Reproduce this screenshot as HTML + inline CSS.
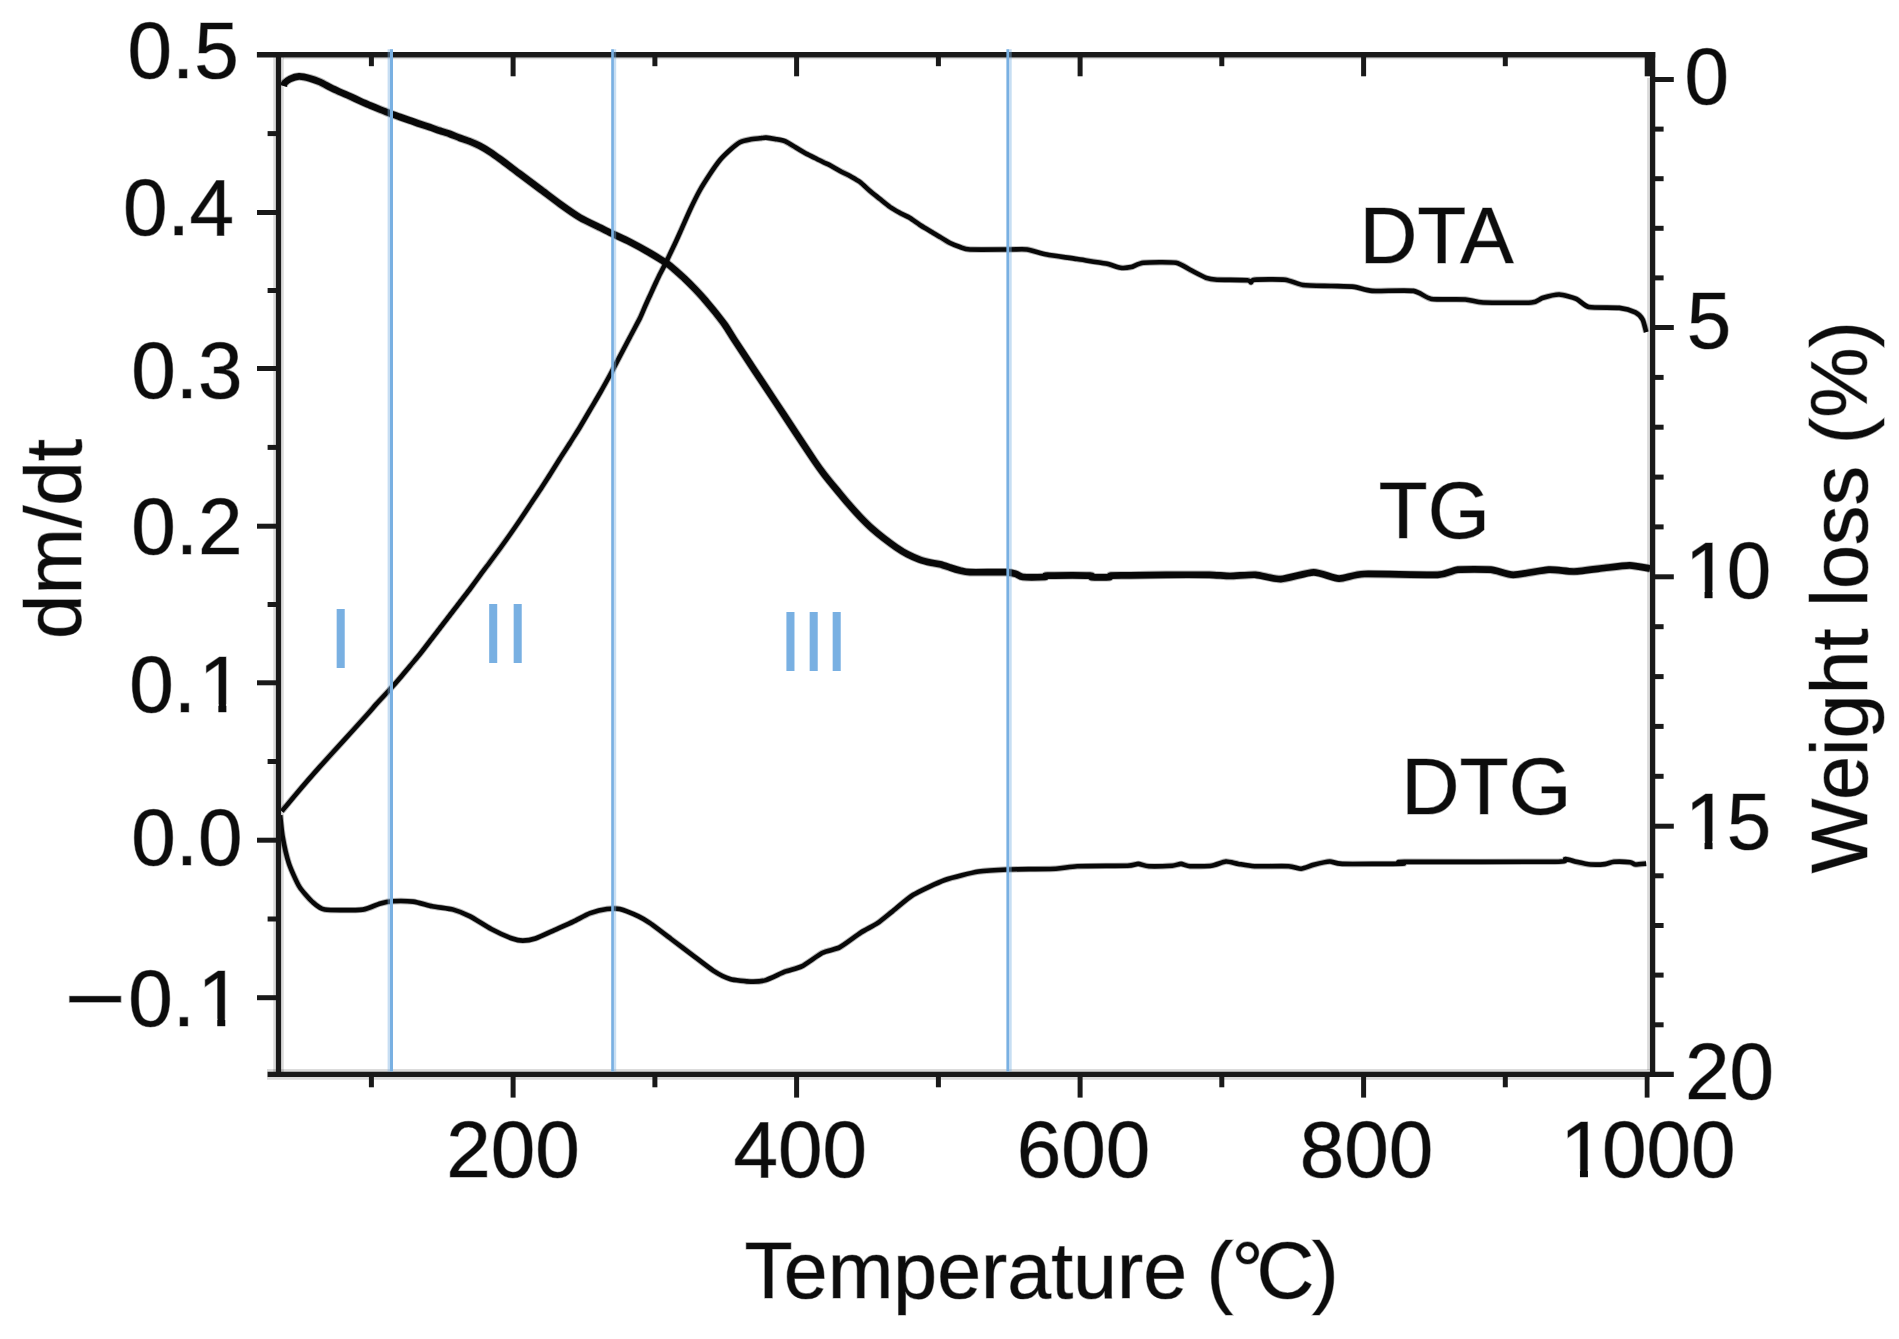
<!DOCTYPE html>
<html lang="en"><head><meta charset="utf-8"><title>TG / DTA / DTG curves</title>
<style>html,body{margin:0;padding:0;background:#fff}body{width:1899px;height:1339px;overflow:hidden}svg{display:block}text{font-family:"Liberation Sans",Arial,Helvetica,sans-serif;fill:#0c0c0c;stroke:#0c0c0c;stroke-opacity:.42;stroke-width:1.2px;paint-order:stroke fill}.bl text{fill:#79b0e2;stroke:none}</style></head><body>
<svg width="1899" height="1339" viewBox="0 0 1899 1339">
<rect width="1899" height="1339" fill="#fff"/>
<g stroke="#000" stroke-opacity="0.14" fill="none">
<line x1="278.5" y1="57" x2="278.5" y2="1072" stroke-width="10.5"/>
<line x1="267" y1="1074.4" x2="1650" y2="1074.4" stroke-width="10.6"/>
<line x1="1648.6" y1="78" x2="1648.6" y2="1070" stroke-width="3"/>
<line x1="283" y1="58.3" x2="1645" y2="58.3" stroke-width="1.8"/>
</g>
<g fill="none" stroke="#080808" stroke-opacity="0.3" stroke-linejoin="round" stroke-linecap="butt">
<path d="M281.8,811.3C283.3,809.5 291.8,799.1 295.8,794.4C299.8,789.7 314.6,772.6 319.7,766.9C324.8,761.2 338.5,746.2 343.6,740.6C348.7,735.0 364.0,718.1 367.5,714.2C371.0,710.3 373.6,707.1 376.0,704.4C378.4,701.7 387.4,692.1 390.0,689.3C392.6,686.5 397.9,680.5 400.0,678.0C402.1,675.5 407.9,668.6 410.0,666.0C412.1,663.4 417.9,656.7 420.0,654.0C422.1,651.3 427.9,643.8 430.0,641.0C432.1,638.2 437.9,630.8 440.0,628.0C442.1,625.2 447.9,617.8 450.0,615.0C452.1,612.2 457.9,604.8 460.0,602.0C462.1,599.2 467.9,591.8 470.0,589.0C472.1,586.2 477.9,578.3 480.0,575.4C482.1,572.5 487.9,564.9 490.0,562.0C492.1,559.1 497.9,551.4 500.0,548.5C502.1,545.6 507.9,537.5 510.0,534.5C512.1,531.5 517.9,523.1 520.0,520.0C522.1,516.9 527.9,508.2 530.0,505.0C532.1,501.8 537.9,493.3 540.0,490.0C542.1,486.7 547.9,477.9 550.0,474.5C552.1,471.1 557.9,461.9 560.0,458.5C562.1,455.1 567.9,446.4 570.0,443.0C572.1,439.6 577.9,430.5 580.0,427.0C582.1,423.5 587.9,413.6 590.0,410.0C592.1,406.4 597.9,396.7 600.0,393.0C602.1,389.3 607.9,378.9 610.0,375.0C612.1,371.1 617.9,360.1 620.0,356.0C622.1,351.9 627.9,341.1 630.0,337.0C632.1,332.9 638.4,321.3 640.0,318.0C641.6,314.7 643.9,308.9 645.0,306.5C646.1,304.1 648.9,297.8 650.0,295.5C651.1,293.2 653.9,286.8 655.0,284.5C656.1,282.2 658.8,276.3 660.0,274.0C661.2,271.7 664.9,264.6 666.0,262.5C667.1,260.4 669.0,256.0 670.0,254.0C671.0,252.0 673.9,245.8 675.0,243.5C676.1,241.2 678.4,236.1 680.0,232.5C681.6,228.9 687.9,214.5 690.0,210.0C692.1,205.5 697.9,193.8 700.0,190.0C702.1,186.2 707.9,177.2 710.0,174.0C712.1,170.8 717.9,162.6 720.0,160.0C722.1,157.4 727.9,151.9 730.0,150.0C732.1,148.1 737.9,143.3 740.0,142.2C742.1,141.1 747.9,139.9 750.0,139.5C752.1,139.1 758.3,138.5 760.0,138.3C761.7,138.1 764.4,137.5 766.0,137.6C767.6,137.7 773.0,138.6 775.0,139.0C777.0,139.4 782.9,140.3 785.0,141.2C787.1,142.1 792.9,145.7 795.0,147.0C797.1,148.3 802.9,151.8 805.0,153.0C807.1,154.2 812.9,156.9 815.0,158.0C817.1,159.1 823.4,162.2 825.0,163.0C826.6,163.8 828.4,164.3 830.0,165.2C831.6,166.1 837.9,169.8 840.0,171.0C842.1,172.2 847.9,174.8 850.0,176.0C852.1,177.2 857.9,180.4 860.0,182.0C862.1,183.6 867.9,189.2 870.0,191.0C872.1,192.8 877.9,197.3 880.0,199.0C882.1,200.7 887.9,205.5 890.0,207.0C892.1,208.5 897.9,211.8 900.0,213.0C902.1,214.2 907.9,216.7 910.0,218.0C912.1,219.3 917.9,223.6 920.0,225.0C922.1,226.4 927.9,229.7 930.0,231.0C932.1,232.3 937.9,235.7 940.0,237.0C942.1,238.3 947.9,241.9 950.0,243.0C952.1,244.1 957.9,246.3 960.0,247.0C962.1,247.7 964.7,249.2 970.0,249.5C975.3,249.8 1003.9,249.5 1010.0,249.5C1016.1,249.5 1023.1,249.0 1027.0,249.5C1030.9,250.0 1041.5,253.6 1046.9,254.6C1052.3,255.6 1071.0,258.1 1077.3,259.1C1083.6,260.1 1101.3,262.7 1105.9,263.6C1110.5,264.5 1117.6,267.3 1120.3,267.7C1123.0,268.1 1128.5,267.6 1131.0,267.1C1133.5,266.6 1138.7,263.2 1143.5,262.7C1148.3,262.2 1170.8,261.9 1175.8,262.7C1180.8,263.5 1186.9,268.2 1190.1,269.8C1193.3,271.4 1203.3,276.8 1206.2,277.9C1209.1,279.0 1212.6,279.5 1217.0,279.7C1221.4,279.9 1243.8,279.9 1247.4,280.2C1251.0,280.5 1250.2,282.5 1251.0,282.4C1251.8,282.3 1251.0,280.0 1254.6,279.7C1258.2,279.4 1279.8,279.1 1285.0,279.7C1290.2,280.3 1297.9,284.3 1302.9,285.0C1307.9,285.7 1326.0,285.8 1331.5,286.0C1337.0,286.2 1350.0,286.4 1354.3,286.9C1358.6,287.4 1365.9,290.5 1372.2,290.9C1378.5,291.3 1407.1,290.0 1413.4,290.9C1419.7,291.8 1425.8,298.0 1431.3,298.9C1436.8,299.8 1459.8,299.1 1465.3,299.5C1470.8,299.9 1476.1,302.2 1483.2,302.5C1490.3,302.8 1525.3,303.0 1531.6,302.5C1537.9,302.0 1539.3,298.9 1542.3,298.0C1545.3,297.1 1555.7,294.4 1559.3,294.5C1562.9,294.6 1573.1,297.6 1576.3,298.9C1579.5,300.2 1584.3,306.0 1588.9,307.0C1593.5,308.0 1614.3,307.3 1619.3,307.9C1624.3,308.5 1632.9,311.2 1635.4,312.4C1637.9,313.6 1641.4,317.4 1642.6,319.5C1643.8,321.6 1645.8,330.8 1646.2,332.1" stroke-width="6.4"/>
<path d="M280.1,815.3C280.4,817.5 281.7,831.1 282.6,836.3C283.5,841.5 287.2,858.3 289.0,863.7C290.8,869.1 297.0,882.9 299.5,886.9C302.0,890.9 309.4,899.2 312.1,901.6C314.8,904.0 319.4,908.7 324.8,909.6C330.2,910.5 356.9,910.2 362.7,909.6C368.5,909.0 376.4,904.6 379.5,903.7C382.6,902.8 388.6,901.4 392.2,901.2C395.8,901.0 408.9,901.1 413.2,901.6C417.5,902.1 427.9,905.4 432.2,906.3C436.5,907.2 449.3,908.5 453.3,909.6C457.3,910.7 466.1,914.3 470.1,916.4C474.1,918.5 486.7,926.6 491.2,929.0C495.7,931.4 508.8,937.3 512.2,938.5C515.6,939.7 520.3,940.6 522.8,940.6C525.3,940.6 532.0,939.6 535.4,938.5C538.8,937.4 550.4,931.9 554.4,930.1C558.4,928.3 569.5,923.4 573.3,921.6C577.1,919.8 586.6,914.5 590.2,913.2C593.8,911.9 603.9,909.4 607.0,909.0C610.1,908.6 616.3,908.2 619.7,909.0C623.1,909.8 635.4,914.9 638.6,916.4C641.8,917.9 646.5,920.8 650.0,923.2C653.5,925.6 666.6,935.6 671.1,939.0C675.6,942.4 687.6,951.4 692.1,954.8C696.6,958.2 709.2,968.0 713.2,970.6C717.2,973.2 726.0,977.8 730.0,979.0C734.0,980.2 747.3,981.5 751.1,981.6C754.9,981.7 762.3,981.2 765.9,980.1C769.5,979.0 781.0,973.2 784.8,971.7C788.6,970.2 797.7,968.4 801.7,966.4C805.7,964.4 818.7,954.7 822.7,952.7C826.7,950.7 835.6,949.5 839.6,947.4C843.6,945.3 856.6,935.3 860.6,932.7C864.6,930.1 874.1,925.5 877.5,923.2C880.9,920.9 888.4,914.6 892.2,911.6C896.0,908.6 907.7,898.2 913.3,894.8C918.9,891.4 937.9,882.5 944.9,880.0C951.9,877.5 971.9,872.7 978.6,871.6C985.3,870.5 999.9,869.8 1008.1,869.5C1016.3,869.2 1048.4,869.1 1055.8,868.7C1063.2,868.3 1069.7,866.5 1077.3,866.2C1084.9,865.9 1120.9,865.9 1127.4,865.7C1133.9,865.5 1135.9,863.8 1138.2,863.9C1140.5,864.0 1145.3,866.0 1148.9,866.2C1152.5,866.4 1168.8,865.9 1172.2,865.7C1175.6,865.5 1179.2,863.8 1181.1,863.9C1183.0,864.0 1186.8,866.0 1190.1,866.2C1193.4,866.4 1207.8,866.2 1211.6,865.7C1215.4,865.2 1223.0,861.7 1225.9,861.5C1228.8,861.3 1235.3,863.4 1238.4,863.9C1241.5,864.4 1249.2,866.0 1254.6,866.2C1260.0,866.4 1283.6,865.9 1288.6,866.2C1293.6,866.5 1298.4,868.8 1301.1,868.7C1303.8,868.6 1310.5,865.6 1313.6,864.8C1316.7,864.0 1326.7,861.6 1329.8,861.5C1332.9,861.4 1334.5,863.7 1342.3,863.9C1350.1,864.1 1396.1,863.8 1402.7,863.6C1409.3,863.4 1388.3,862.0 1404.5,861.8C1420.7,861.6 1537.7,862.1 1554.9,861.8C1572.1,861.5 1563.3,859.1 1565.6,859.1C1567.9,859.1 1573.6,861.2 1576.3,861.8C1579.0,862.4 1587.6,864.3 1590.7,864.5C1593.8,864.7 1602.5,864.4 1605.0,864.1C1607.5,863.8 1611.3,862.0 1614.0,861.8C1616.7,861.6 1627.8,862.0 1630.1,862.3C1632.4,862.6 1633.7,864.4 1635.4,864.5C1637.1,864.6 1645.0,863.7 1646.2,863.6" stroke-width="6.4"/>
<path d="M283.6,86.0C283.7,85.7 283.9,83.7 284.6,83.0C285.3,82.3 288.5,79.7 290.0,79.0C291.5,78.3 296.9,76.5 299.0,76.4C301.1,76.3 307.8,77.8 310.0,78.4C312.2,79.0 317.9,81.1 320.0,82.0C322.1,82.9 327.9,86.2 330.0,87.3C332.1,88.4 337.9,91.0 340.0,92.0C342.1,93.0 347.9,95.3 350.0,96.3C352.1,97.3 357.9,100.0 360.0,101.0C362.1,102.0 367.9,104.4 370.0,105.3C372.1,106.2 377.9,108.6 380.0,109.5C382.1,110.4 387.9,112.6 390.0,113.4C392.1,114.2 397.9,116.2 400.0,117.0C402.1,117.8 407.9,119.8 410.0,120.5C412.1,121.2 417.9,123.3 420.0,124.0C422.1,124.7 427.9,126.6 430.0,127.3C432.1,128.0 437.9,130.1 440.0,130.8C442.1,131.5 447.9,133.2 450.0,134.0C452.1,134.8 457.9,137.2 460.0,138.0C462.1,138.8 467.9,140.6 470.0,141.5C472.1,142.4 477.9,144.9 480.0,146.0C482.1,147.1 487.9,150.6 490.0,152.0C492.1,153.4 496.8,156.7 500.0,159.0C503.2,161.3 515.7,170.8 520.0,174.0C524.3,177.2 535.7,185.8 540.0,189.0C544.3,192.2 555.7,200.9 560.0,204.0C564.3,207.1 575.7,215.1 580.0,217.6C584.3,220.1 596.5,225.9 600.0,227.6C603.5,229.3 609.8,232.5 613.0,234.0C616.2,235.5 626.1,240.0 630.0,242.0C633.9,244.0 646.1,250.7 650.0,253.0C653.9,255.3 664.1,261.5 666.8,263.3C669.5,265.1 673.1,268.3 675.0,270.0C676.9,271.7 682.9,277.0 685.0,279.0C687.1,281.0 692.9,286.8 695.0,289.0C697.1,291.2 702.9,297.5 705.0,300.0C707.1,302.5 712.9,309.3 715.0,312.0C717.1,314.7 722.9,322.0 725.0,325.0C727.1,328.0 731.4,335.2 734.5,340.0C737.6,344.8 750.2,363.8 754.5,370.3C758.8,376.8 770.2,394.0 774.5,400.5C778.8,407.0 790.2,424.3 794.5,430.8C798.8,437.3 811.4,456.4 814.5,461.0C817.6,465.6 821.7,471.2 824.0,474.2C826.3,477.2 833.4,485.9 836.0,489.0C838.6,492.1 845.4,500.4 848.0,503.4C850.6,506.4 857.4,514.0 860.0,516.7C862.6,519.4 869.4,526.2 872.0,528.5C874.6,530.8 881.4,536.4 884.0,538.4C886.6,540.4 893.5,545.5 896.0,547.2C898.5,548.9 905.0,553.0 907.5,554.3C910.0,555.6 917.0,558.7 919.5,559.6C922.0,560.5 929.2,562.3 931.4,562.8C933.6,563.3 938.0,563.8 940.0,564.3C942.0,564.8 947.9,566.8 950.0,567.5C952.1,568.2 957.9,570.0 960.0,570.5C962.1,571.0 965.1,572.0 970.0,572.2C974.9,572.4 1001.1,572.0 1006.0,572.2C1010.9,572.4 1014.2,573.5 1016.0,574.0C1017.8,574.5 1019.9,576.7 1023.0,577.0C1026.1,577.3 1042.4,577.1 1045.0,577.0C1047.6,576.9 1042.7,575.7 1047.5,575.6C1052.3,575.5 1085.3,575.4 1090.0,575.6C1094.7,575.8 1090.0,577.0 1092.0,577.2C1094.0,577.4 1107.0,577.4 1109.0,577.2C1111.0,577.0 1108.8,575.8 1111.0,575.6C1113.2,575.4 1124.0,575.5 1130.0,575.4C1136.0,575.3 1158.6,574.9 1167.0,574.8C1175.4,574.7 1202.4,574.7 1209.1,574.8C1215.8,574.9 1225.0,576.0 1230.0,576.0C1235.0,576.0 1250.2,574.5 1255.6,574.8C1261.0,575.1 1274.7,579.4 1280.9,579.1C1287.1,578.8 1307.5,572.4 1313.7,572.3C1319.9,572.2 1333.6,578.4 1339.0,578.6C1344.4,578.8 1353.8,574.4 1364.3,574.0C1374.8,573.6 1427.6,575.3 1437.6,574.8C1447.6,574.3 1452.1,570.2 1457.8,569.7C1463.5,569.2 1484.8,569.2 1490.7,569.7C1496.6,570.2 1507.2,574.8 1513.4,574.8C1519.6,574.8 1542.3,570.1 1548.8,569.7C1555.3,569.3 1568.2,571.7 1574.1,571.5C1580.0,571.3 1598.5,568.7 1604.4,568.0C1610.3,567.3 1624.8,565.3 1629.7,565.4C1634.6,565.5 1647.8,568.2 1650.0,568.5" stroke-width="8.5"/>
</g>
<g fill="none" stroke="#080808" stroke-linejoin="round" stroke-linecap="butt">
<path d="M281.8,811.3C283.3,809.5 291.8,799.1 295.8,794.4C299.8,789.7 314.6,772.6 319.7,766.9C324.8,761.2 338.5,746.2 343.6,740.6C348.7,735.0 364.0,718.1 367.5,714.2C371.0,710.3 373.6,707.1 376.0,704.4C378.4,701.7 387.4,692.1 390.0,689.3C392.6,686.5 397.9,680.5 400.0,678.0C402.1,675.5 407.9,668.6 410.0,666.0C412.1,663.4 417.9,656.7 420.0,654.0C422.1,651.3 427.9,643.8 430.0,641.0C432.1,638.2 437.9,630.8 440.0,628.0C442.1,625.2 447.9,617.8 450.0,615.0C452.1,612.2 457.9,604.8 460.0,602.0C462.1,599.2 467.9,591.8 470.0,589.0C472.1,586.2 477.9,578.3 480.0,575.4C482.1,572.5 487.9,564.9 490.0,562.0C492.1,559.1 497.9,551.4 500.0,548.5C502.1,545.6 507.9,537.5 510.0,534.5C512.1,531.5 517.9,523.1 520.0,520.0C522.1,516.9 527.9,508.2 530.0,505.0C532.1,501.8 537.9,493.3 540.0,490.0C542.1,486.7 547.9,477.9 550.0,474.5C552.1,471.1 557.9,461.9 560.0,458.5C562.1,455.1 567.9,446.4 570.0,443.0C572.1,439.6 577.9,430.5 580.0,427.0C582.1,423.5 587.9,413.6 590.0,410.0C592.1,406.4 597.9,396.7 600.0,393.0C602.1,389.3 607.9,378.9 610.0,375.0C612.1,371.1 617.9,360.1 620.0,356.0C622.1,351.9 627.9,341.1 630.0,337.0C632.1,332.9 638.4,321.3 640.0,318.0C641.6,314.7 643.9,308.9 645.0,306.5C646.1,304.1 648.9,297.8 650.0,295.5C651.1,293.2 653.9,286.8 655.0,284.5C656.1,282.2 658.8,276.3 660.0,274.0C661.2,271.7 664.9,264.6 666.0,262.5C667.1,260.4 669.0,256.0 670.0,254.0C671.0,252.0 673.9,245.8 675.0,243.5C676.1,241.2 678.4,236.1 680.0,232.5C681.6,228.9 687.9,214.5 690.0,210.0C692.1,205.5 697.9,193.8 700.0,190.0C702.1,186.2 707.9,177.2 710.0,174.0C712.1,170.8 717.9,162.6 720.0,160.0C722.1,157.4 727.9,151.9 730.0,150.0C732.1,148.1 737.9,143.3 740.0,142.2C742.1,141.1 747.9,139.9 750.0,139.5C752.1,139.1 758.3,138.5 760.0,138.3C761.7,138.1 764.4,137.5 766.0,137.6C767.6,137.7 773.0,138.6 775.0,139.0C777.0,139.4 782.9,140.3 785.0,141.2C787.1,142.1 792.9,145.7 795.0,147.0C797.1,148.3 802.9,151.8 805.0,153.0C807.1,154.2 812.9,156.9 815.0,158.0C817.1,159.1 823.4,162.2 825.0,163.0C826.6,163.8 828.4,164.3 830.0,165.2C831.6,166.1 837.9,169.8 840.0,171.0C842.1,172.2 847.9,174.8 850.0,176.0C852.1,177.2 857.9,180.4 860.0,182.0C862.1,183.6 867.9,189.2 870.0,191.0C872.1,192.8 877.9,197.3 880.0,199.0C882.1,200.7 887.9,205.5 890.0,207.0C892.1,208.5 897.9,211.8 900.0,213.0C902.1,214.2 907.9,216.7 910.0,218.0C912.1,219.3 917.9,223.6 920.0,225.0C922.1,226.4 927.9,229.7 930.0,231.0C932.1,232.3 937.9,235.7 940.0,237.0C942.1,238.3 947.9,241.9 950.0,243.0C952.1,244.1 957.9,246.3 960.0,247.0C962.1,247.7 964.7,249.2 970.0,249.5C975.3,249.8 1003.9,249.5 1010.0,249.5C1016.1,249.5 1023.1,249.0 1027.0,249.5C1030.9,250.0 1041.5,253.6 1046.9,254.6C1052.3,255.6 1071.0,258.1 1077.3,259.1C1083.6,260.1 1101.3,262.7 1105.9,263.6C1110.5,264.5 1117.6,267.3 1120.3,267.7C1123.0,268.1 1128.5,267.6 1131.0,267.1C1133.5,266.6 1138.7,263.2 1143.5,262.7C1148.3,262.2 1170.8,261.9 1175.8,262.7C1180.8,263.5 1186.9,268.2 1190.1,269.8C1193.3,271.4 1203.3,276.8 1206.2,277.9C1209.1,279.0 1212.6,279.5 1217.0,279.7C1221.4,279.9 1243.8,279.9 1247.4,280.2C1251.0,280.5 1250.2,282.5 1251.0,282.4C1251.8,282.3 1251.0,280.0 1254.6,279.7C1258.2,279.4 1279.8,279.1 1285.0,279.7C1290.2,280.3 1297.9,284.3 1302.9,285.0C1307.9,285.7 1326.0,285.8 1331.5,286.0C1337.0,286.2 1350.0,286.4 1354.3,286.9C1358.6,287.4 1365.9,290.5 1372.2,290.9C1378.5,291.3 1407.1,290.0 1413.4,290.9C1419.7,291.8 1425.8,298.0 1431.3,298.9C1436.8,299.8 1459.8,299.1 1465.3,299.5C1470.8,299.9 1476.1,302.2 1483.2,302.5C1490.3,302.8 1525.3,303.0 1531.6,302.5C1537.9,302.0 1539.3,298.9 1542.3,298.0C1545.3,297.1 1555.7,294.4 1559.3,294.5C1562.9,294.6 1573.1,297.6 1576.3,298.9C1579.5,300.2 1584.3,306.0 1588.9,307.0C1593.5,308.0 1614.3,307.3 1619.3,307.9C1624.3,308.5 1632.9,311.2 1635.4,312.4C1637.9,313.6 1641.4,317.4 1642.6,319.5C1643.8,321.6 1645.8,330.8 1646.2,332.1" stroke-width="4.6"/>
<path d="M280.1,815.3C280.4,817.5 281.7,831.1 282.6,836.3C283.5,841.5 287.2,858.3 289.0,863.7C290.8,869.1 297.0,882.9 299.5,886.9C302.0,890.9 309.4,899.2 312.1,901.6C314.8,904.0 319.4,908.7 324.8,909.6C330.2,910.5 356.9,910.2 362.7,909.6C368.5,909.0 376.4,904.6 379.5,903.7C382.6,902.8 388.6,901.4 392.2,901.2C395.8,901.0 408.9,901.1 413.2,901.6C417.5,902.1 427.9,905.4 432.2,906.3C436.5,907.2 449.3,908.5 453.3,909.6C457.3,910.7 466.1,914.3 470.1,916.4C474.1,918.5 486.7,926.6 491.2,929.0C495.7,931.4 508.8,937.3 512.2,938.5C515.6,939.7 520.3,940.6 522.8,940.6C525.3,940.6 532.0,939.6 535.4,938.5C538.8,937.4 550.4,931.9 554.4,930.1C558.4,928.3 569.5,923.4 573.3,921.6C577.1,919.8 586.6,914.5 590.2,913.2C593.8,911.9 603.9,909.4 607.0,909.0C610.1,908.6 616.3,908.2 619.7,909.0C623.1,909.8 635.4,914.9 638.6,916.4C641.8,917.9 646.5,920.8 650.0,923.2C653.5,925.6 666.6,935.6 671.1,939.0C675.6,942.4 687.6,951.4 692.1,954.8C696.6,958.2 709.2,968.0 713.2,970.6C717.2,973.2 726.0,977.8 730.0,979.0C734.0,980.2 747.3,981.5 751.1,981.6C754.9,981.7 762.3,981.2 765.9,980.1C769.5,979.0 781.0,973.2 784.8,971.7C788.6,970.2 797.7,968.4 801.7,966.4C805.7,964.4 818.7,954.7 822.7,952.7C826.7,950.7 835.6,949.5 839.6,947.4C843.6,945.3 856.6,935.3 860.6,932.7C864.6,930.1 874.1,925.5 877.5,923.2C880.9,920.9 888.4,914.6 892.2,911.6C896.0,908.6 907.7,898.2 913.3,894.8C918.9,891.4 937.9,882.5 944.9,880.0C951.9,877.5 971.9,872.7 978.6,871.6C985.3,870.5 999.9,869.8 1008.1,869.5C1016.3,869.2 1048.4,869.1 1055.8,868.7C1063.2,868.3 1069.7,866.5 1077.3,866.2C1084.9,865.9 1120.9,865.9 1127.4,865.7C1133.9,865.5 1135.9,863.8 1138.2,863.9C1140.5,864.0 1145.3,866.0 1148.9,866.2C1152.5,866.4 1168.8,865.9 1172.2,865.7C1175.6,865.5 1179.2,863.8 1181.1,863.9C1183.0,864.0 1186.8,866.0 1190.1,866.2C1193.4,866.4 1207.8,866.2 1211.6,865.7C1215.4,865.2 1223.0,861.7 1225.9,861.5C1228.8,861.3 1235.3,863.4 1238.4,863.9C1241.5,864.4 1249.2,866.0 1254.6,866.2C1260.0,866.4 1283.6,865.9 1288.6,866.2C1293.6,866.5 1298.4,868.8 1301.1,868.7C1303.8,868.6 1310.5,865.6 1313.6,864.8C1316.7,864.0 1326.7,861.6 1329.8,861.5C1332.9,861.4 1334.5,863.7 1342.3,863.9C1350.1,864.1 1396.1,863.8 1402.7,863.6C1409.3,863.4 1388.3,862.0 1404.5,861.8C1420.7,861.6 1537.7,862.1 1554.9,861.8C1572.1,861.5 1563.3,859.1 1565.6,859.1C1567.9,859.1 1573.6,861.2 1576.3,861.8C1579.0,862.4 1587.6,864.3 1590.7,864.5C1593.8,864.7 1602.5,864.4 1605.0,864.1C1607.5,863.8 1611.3,862.0 1614.0,861.8C1616.7,861.6 1627.8,862.0 1630.1,862.3C1632.4,862.6 1633.7,864.4 1635.4,864.5C1637.1,864.6 1645.0,863.7 1646.2,863.6" stroke-width="4.6"/>
<path d="M283.6,86.0C283.7,85.7 283.9,83.7 284.6,83.0C285.3,82.3 288.5,79.7 290.0,79.0C291.5,78.3 296.9,76.5 299.0,76.4C301.1,76.3 307.8,77.8 310.0,78.4C312.2,79.0 317.9,81.1 320.0,82.0C322.1,82.9 327.9,86.2 330.0,87.3C332.1,88.4 337.9,91.0 340.0,92.0C342.1,93.0 347.9,95.3 350.0,96.3C352.1,97.3 357.9,100.0 360.0,101.0C362.1,102.0 367.9,104.4 370.0,105.3C372.1,106.2 377.9,108.6 380.0,109.5C382.1,110.4 387.9,112.6 390.0,113.4C392.1,114.2 397.9,116.2 400.0,117.0C402.1,117.8 407.9,119.8 410.0,120.5C412.1,121.2 417.9,123.3 420.0,124.0C422.1,124.7 427.9,126.6 430.0,127.3C432.1,128.0 437.9,130.1 440.0,130.8C442.1,131.5 447.9,133.2 450.0,134.0C452.1,134.8 457.9,137.2 460.0,138.0C462.1,138.8 467.9,140.6 470.0,141.5C472.1,142.4 477.9,144.9 480.0,146.0C482.1,147.1 487.9,150.6 490.0,152.0C492.1,153.4 496.8,156.7 500.0,159.0C503.2,161.3 515.7,170.8 520.0,174.0C524.3,177.2 535.7,185.8 540.0,189.0C544.3,192.2 555.7,200.9 560.0,204.0C564.3,207.1 575.7,215.1 580.0,217.6C584.3,220.1 596.5,225.9 600.0,227.6C603.5,229.3 609.8,232.5 613.0,234.0C616.2,235.5 626.1,240.0 630.0,242.0C633.9,244.0 646.1,250.7 650.0,253.0C653.9,255.3 664.1,261.5 666.8,263.3C669.5,265.1 673.1,268.3 675.0,270.0C676.9,271.7 682.9,277.0 685.0,279.0C687.1,281.0 692.9,286.8 695.0,289.0C697.1,291.2 702.9,297.5 705.0,300.0C707.1,302.5 712.9,309.3 715.0,312.0C717.1,314.7 722.9,322.0 725.0,325.0C727.1,328.0 731.4,335.2 734.5,340.0C737.6,344.8 750.2,363.8 754.5,370.3C758.8,376.8 770.2,394.0 774.5,400.5C778.8,407.0 790.2,424.3 794.5,430.8C798.8,437.3 811.4,456.4 814.5,461.0C817.6,465.6 821.7,471.2 824.0,474.2C826.3,477.2 833.4,485.9 836.0,489.0C838.6,492.1 845.4,500.4 848.0,503.4C850.6,506.4 857.4,514.0 860.0,516.7C862.6,519.4 869.4,526.2 872.0,528.5C874.6,530.8 881.4,536.4 884.0,538.4C886.6,540.4 893.5,545.5 896.0,547.2C898.5,548.9 905.0,553.0 907.5,554.3C910.0,555.6 917.0,558.7 919.5,559.6C922.0,560.5 929.2,562.3 931.4,562.8C933.6,563.3 938.0,563.8 940.0,564.3C942.0,564.8 947.9,566.8 950.0,567.5C952.1,568.2 957.9,570.0 960.0,570.5C962.1,571.0 965.1,572.0 970.0,572.2C974.9,572.4 1001.1,572.0 1006.0,572.2C1010.9,572.4 1014.2,573.5 1016.0,574.0C1017.8,574.5 1019.9,576.7 1023.0,577.0C1026.1,577.3 1042.4,577.1 1045.0,577.0C1047.6,576.9 1042.7,575.7 1047.5,575.6C1052.3,575.5 1085.3,575.4 1090.0,575.6C1094.7,575.8 1090.0,577.0 1092.0,577.2C1094.0,577.4 1107.0,577.4 1109.0,577.2C1111.0,577.0 1108.8,575.8 1111.0,575.6C1113.2,575.4 1124.0,575.5 1130.0,575.4C1136.0,575.3 1158.6,574.9 1167.0,574.8C1175.4,574.7 1202.4,574.7 1209.1,574.8C1215.8,574.9 1225.0,576.0 1230.0,576.0C1235.0,576.0 1250.2,574.5 1255.6,574.8C1261.0,575.1 1274.7,579.4 1280.9,579.1C1287.1,578.8 1307.5,572.4 1313.7,572.3C1319.9,572.2 1333.6,578.4 1339.0,578.6C1344.4,578.8 1353.8,574.4 1364.3,574.0C1374.8,573.6 1427.6,575.3 1437.6,574.8C1447.6,574.3 1452.1,570.2 1457.8,569.7C1463.5,569.2 1484.8,569.2 1490.7,569.7C1496.6,570.2 1507.2,574.8 1513.4,574.8C1519.6,574.8 1542.3,570.1 1548.8,569.7C1555.3,569.3 1568.2,571.7 1574.1,571.5C1580.0,571.3 1598.5,568.7 1604.4,568.0C1610.3,567.3 1624.8,565.3 1629.7,565.4C1634.6,565.5 1647.8,568.2 1650.0,568.5" stroke-width="6.7"/>
</g>
<g stroke="#191919" fill="none">
<line x1="256.9" y1="54.7" x2="1655.2" y2="54.7" stroke-width="5.5"/>
<line x1="267.6" y1="1074.4" x2="1673.8" y2="1074.4" stroke-width="5.3"/>
<line x1="278.5" y1="52" x2="278.5" y2="1077" stroke-width="5.2"/>
<line x1="1652.6" y1="52" x2="1652.6" y2="1077" stroke-width="5.3"/>
<g stroke-width="5">
<line x1="257" y1="212.5" x2="278.5" y2="212.5"/>
<line x1="257" y1="368.5" x2="278.5" y2="368.5"/>
<line x1="257" y1="526.2" x2="278.5" y2="526.2"/>
<line x1="257" y1="682.8" x2="278.5" y2="682.8"/>
<line x1="257" y1="840.2" x2="278.5" y2="840.2"/>
<line x1="257" y1="997.7" x2="278.5" y2="997.7"/>
<line x1="267.6" y1="133.6" x2="278.5" y2="133.6"/>
<line x1="267.6" y1="290.5" x2="278.5" y2="290.5"/>
<line x1="267.6" y1="447.4" x2="278.5" y2="447.4"/>
<line x1="267.6" y1="604.5" x2="278.5" y2="604.5"/>
<line x1="267.6" y1="761.5" x2="278.5" y2="761.5"/>
<line x1="267.6" y1="919.0" x2="278.5" y2="919.0"/>
<line x1="513.1" y1="54.7" x2="513.1" y2="76.3"/>
<line x1="513.1" y1="1074.4" x2="513.1" y2="1097.6"/>
<line x1="796.6" y1="54.7" x2="796.6" y2="76.3"/>
<line x1="796.6" y1="1074.4" x2="796.6" y2="1097.6"/>
<line x1="1080.1" y1="54.7" x2="1080.1" y2="76.3"/>
<line x1="1080.1" y1="1074.4" x2="1080.1" y2="1097.6"/>
<line x1="1363.6" y1="54.7" x2="1363.6" y2="76.3"/>
<line x1="1363.6" y1="1074.4" x2="1363.6" y2="1097.6"/>
<line x1="371.4" y1="54.7" x2="371.4" y2="66.2"/>
<line x1="371.4" y1="1074.4" x2="371.4" y2="1087.3"/>
<line x1="654.9" y1="54.7" x2="654.9" y2="66.2"/>
<line x1="654.9" y1="1074.4" x2="654.9" y2="1087.3"/>
<line x1="938.4" y1="54.7" x2="938.4" y2="66.2"/>
<line x1="938.4" y1="1074.4" x2="938.4" y2="1087.3"/>
<line x1="1221.8" y1="54.7" x2="1221.8" y2="66.2"/>
<line x1="1221.8" y1="1074.4" x2="1221.8" y2="1087.3"/>
<line x1="1505.3" y1="54.7" x2="1505.3" y2="66.2"/>
<line x1="1505.3" y1="1074.4" x2="1505.3" y2="1087.3"/>
<line x1="1647.4" y1="54.7" x2="1647.4" y2="76.3" stroke-width="5.4"/>
<line x1="1647.1" y1="1074.4" x2="1647.1" y2="1097.6" stroke-width="4.8"/>
<line x1="1652.6" y1="79.5" x2="1673.8" y2="79.5"/>
<line x1="1652.6" y1="129.1" x2="1663.6" y2="129.1"/>
<line x1="1652.6" y1="178.7" x2="1663.6" y2="178.7"/>
<line x1="1652.6" y1="228.3" x2="1663.6" y2="228.3"/>
<line x1="1652.6" y1="277.9" x2="1663.6" y2="277.9"/>
<line x1="1652.6" y1="327.5" x2="1673.8" y2="327.5"/>
<line x1="1652.6" y1="377.4" x2="1663.6" y2="377.4"/>
<line x1="1652.6" y1="427.2" x2="1663.6" y2="427.2"/>
<line x1="1652.6" y1="477.1" x2="1663.6" y2="477.1"/>
<line x1="1652.6" y1="526.9" x2="1663.6" y2="526.9"/>
<line x1="1652.6" y1="576.8" x2="1673.8" y2="576.8"/>
<line x1="1652.6" y1="626.7" x2="1663.6" y2="626.7"/>
<line x1="1652.6" y1="676.6" x2="1663.6" y2="676.6"/>
<line x1="1652.6" y1="726.4" x2="1663.6" y2="726.4"/>
<line x1="1652.6" y1="776.3" x2="1663.6" y2="776.3"/>
<line x1="1652.6" y1="826.2" x2="1673.8" y2="826.2"/>
<line x1="1652.6" y1="875.8" x2="1663.6" y2="875.8"/>
<line x1="1652.6" y1="925.5" x2="1663.6" y2="925.5"/>
<line x1="1652.6" y1="975.1" x2="1663.6" y2="975.1"/>
<line x1="1652.6" y1="1024.8" x2="1663.6" y2="1024.8"/>
</g></g>
<g fill="#79b0e2">
<rect x="390.0" y="49.2" width="3.0" height="1022.4"/>
<rect x="387.6" y="49.2" width="2.4" height="1022.4" fill-opacity="0.42"/>
<rect x="611.2" y="49.2" width="2.7" height="1022.4"/>
<rect x="613.9" y="49.2" width="2.3" height="1022.4" fill-opacity="0.42"/>
<rect x="1006.4" y="49.2" width="2.7" height="1022.4"/>
<rect x="1009.1" y="49.2" width="2.6" height="1022.4" fill-opacity="0.42"/>
</g>
<g font-size="80">
<text x="127.5" y="78.4">0.5</text>
<text x="122.9" y="235.4">0.4</text>
<text x="131.3" y="398.3">0.3</text>
<text x="131.3" y="554.4">0.2</text>
<text x="129.3" y="711.6">0.<tspan dx="2.7">1</tspan></text>
<text x="131.3" y="865.3">0.0</text>
<text x="128.2" y="1026.3">0.<tspan dx="2.7">1</tspan></text>
<text x="64.4" y="1026.3" textLength="61.3" lengthAdjust="spacingAndGlyphs">−</text>
<text x="446.2" y="1176.6">200</text>
<text x="733.5" y="1176.6">400</text>
<text x="1016.7" y="1176.6">600</text>
<text x="1299.7" y="1176.6">800</text>
<text x="1557.6" y="1176.6"><tspan dx="2.7">1</tspan><tspan dx="-2.7">0</tspan>00</text>
<text x="1684.5" y="103.8">0</text>
<text x="1686.7" y="347.8">5</text>
<text x="1682.2" y="598.0"><tspan dx="2.7">1</tspan><tspan dx="-2.7">0</tspan></text>
<text x="1682.2" y="848.6"><tspan dx="2.7">1</tspan><tspan dx="-2.7">5</tspan></text>
<text x="1685.0" y="1099.4">20</text>
<text x="1359.6" y="263">DTA</text>
<text x="1378.8" y="537.9">TG</text>
<text x="1401.3" y="813.8" textLength="170" lengthAdjust="spacingAndGlyphs">DTG</text>
<text y="1298.4"><tspan x="744.4" textLength="442.6" lengthAdjust="spacingAndGlyphs">Temperature</tspan><tspan x="1206.5">(</tspan><tspan x="1231.6">°</tspan><tspan x="1256.4">C</tspan><tspan x="1312">)</tspan></text>
<text transform="translate(81.1,639) rotate(-90)">dm/dt</text>
<text transform="translate(1867.3,873.2) rotate(-90)" textLength="552" lengthAdjust="spacingAndGlyphs">Weight loss (%)</text>
</g>
<g fill="#fff">
<rect x="203.01" y="704.02" width="15.37" height="9.38"/>
<rect x="226.36" y="704.02" width="14.75" height="9.38"/>
<rect x="201.91" y="1018.72" width="15.37" height="9.38"/>
<rect x="225.26" y="1018.72" width="14.75" height="9.38"/>
<rect x="1564.59" y="1169.02" width="15.37" height="9.38"/>
<rect x="1587.94" y="1169.02" width="14.75" height="9.38"/>
<rect x="1689.19" y="590.42" width="15.37" height="9.38"/>
<rect x="1712.54" y="590.42" width="14.75" height="9.38"/>
<rect x="1689.19" y="841.02" width="15.37" height="9.38"/>
<rect x="1712.54" y="841.02" width="14.75" height="9.38"/>
</g>
<g class="bl" font-size="86">
<text x="328.7" y="667.9">I</text>
<text x="481.2" y="662.6" letter-spacing="0.55">II</text>
<text x="778.5" y="670.5" letter-spacing="-0.75">III</text>
</g>
</svg></body></html>
